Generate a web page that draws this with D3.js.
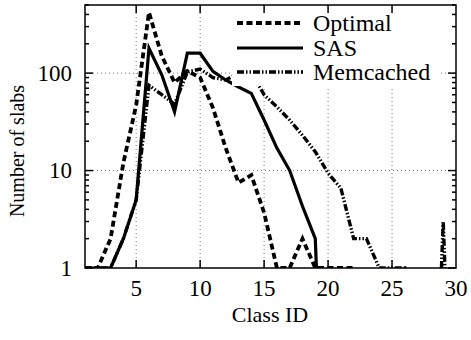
<!DOCTYPE html>
<html><head><meta charset="utf-8">
<script src="https://cdn.jsdelivr.net/npm/d3@7"></script>
<style>
body{margin:0;background:#fff;}
text{font-family:"Liberation Serif","Times New Roman",serif;fill:#000;}
</style></head>
<body><svg id="c" width="471" height="340"></svg>
<script>
const classes = [1,2,3,4,5,6,7,8,9,10,11,12,13,14,15,16,17,18,19,20,21,22,23,24,25,26,27,28,29,30];
const optimal   = [1,1,2,12,47,420,150,80,105,90,44,17,7.5,9,3.7,1,1,2,1,1,1,1,0,0,0,0,0,0,0,0];
const sas       = [1,1,1,2,5,180,96,40,160,160,104,85,72,62,33,17,10,4.3,2,0,0,0,0,0,0,0,0,0,0,0];
const memcached = [1,1,1,2,5,75,60,48,103,110,90,85,100,100,60,45,33,23,15.6,9.4,6.6,2,2,1,1,1,0,0,3,0];
const seriesNames = ["Optimal","SAS","Memcached"];
const xTicks = [5,10,15,20,25,30];
const yTicks = [1,10,100];
const xGrid = [5,10,15,20,25];
const yGrid = [10,100];

const svg = d3.select("#c");
const L=85,R=456,T=5,B=268;
const x = d3.scaleLinear().domain([1,30]).range([L,R]);
const y = d3.scaleLog().domain([1,500]).range([B,T]);
const FS = 23;

svg.append("defs").append("clipPath").attr("id","clip")
  .append("rect").attr("x",L).attr("y",T).attr("width",R-L).attr("height",B-T);

// grid
const g = svg.append("g").attr("stroke","#777").attr("stroke-width",1).attr("stroke-dasharray","1,3");
xGrid.forEach(v=>g.append("line").attr("x1",x(v)).attr("x2",x(v)).attr("y1",T).attr("y2",B));
yGrid.forEach(v=>g.append("line").attr("x1",L).attr("x2",R).attr("y1",y(v)).attr("y2",y(v)));

const styles = [
  {data:optimal, dash:"6,3.5", w:3.8},
  {data:sas, dash:null, w:3.2},
  {data:memcached, dash:"7,2,1.5,2,1.5,2", w:3.4}
];
const line = d3.line().x((d,i)=>x(classes[i])).y(d=>y(Math.max(d,1e-3)));
const lg = svg.append("g").attr("clip-path","url(#clip)");
styles.forEach(s=>{
  lg.append("path").attr("d",line(s.data)).attr("fill","none").attr("stroke","#000")
    .attr("stroke-width",s.w).attr("stroke-dasharray",s.dash).attr("stroke-linejoin","miter");
});

// legend (opaque)
svg.append("rect").attr("x",232).attr("y",T+1).attr("width",208).attr("height",80).attr("fill","#fff");
const ly=[23,48,72];
styles.forEach((s,i)=>{
  svg.append("line").attr("x1",237).attr("x2",303).attr("y1",ly[i]).attr("y2",ly[i])
    .attr("stroke","#000").attr("stroke-width",s.w).attr("stroke-dasharray",s.dash);
  svg.append("text").attr("x",313).attr("y",ly[i]).attr("dy","0.33em").attr("font-size",FS+1).text(seriesNames[i]);
});

// axes frame
const ax = svg.append("g").attr("stroke","#000").attr("stroke-width",1.5);
ax.append("rect").attr("x",L).attr("y",T).attr("width",R-L).attr("height",B-T).attr("fill","none");
// x ticks
xTicks.forEach(v=>{
  if (v<30){
  ax.append("line").attr("x1",x(v)).attr("x2",x(v)).attr("y1",B).attr("y2",B-8);
  ax.append("line").attr("x1",x(v)).attr("x2",x(v)).attr("y1",T).attr("y2",T+8);
  }
  svg.append("text").attr("x",x(v)).attr("y",B+20).attr("dy","0.33em").attr("text-anchor","middle").attr("font-size",FS).text(v);
});
// y ticks
yTicks.forEach(v=>{
  ax.append("line").attr("x1",L).attr("x2",L+8).attr("y1",y(v)).attr("y2",y(v));
  ax.append("line").attr("x1",R).attr("x2",R-8).attr("y1",y(v)).attr("y2",y(v));
  svg.append("text").attr("x",L-13).attr("y",y(v)).attr("dy","0.33em").attr("text-anchor","end").attr("font-size",FS).text(v);
});
y.ticks().filter(v=>!yTicks.includes(v) && v<=500).forEach(v=>{
  ax.append("line").attr("x1",L).attr("x2",L+4).attr("y1",y(v)).attr("y2",y(v));
  ax.append("line").attr("x1",R).attr("x2",R-4).attr("y1",y(v)).attr("y2",y(v));
});
svg.append("text").attr("x",270).attr("y",315).attr("dy","0.33em").attr("text-anchor","middle").attr("font-size",22).text("Class ID");
svg.append("text").attr("transform","translate(17,151) rotate(-90)").attr("dy","0.33em").attr("text-anchor","middle").attr("font-size",20).text("Number of slabs");
</script></body></html>
